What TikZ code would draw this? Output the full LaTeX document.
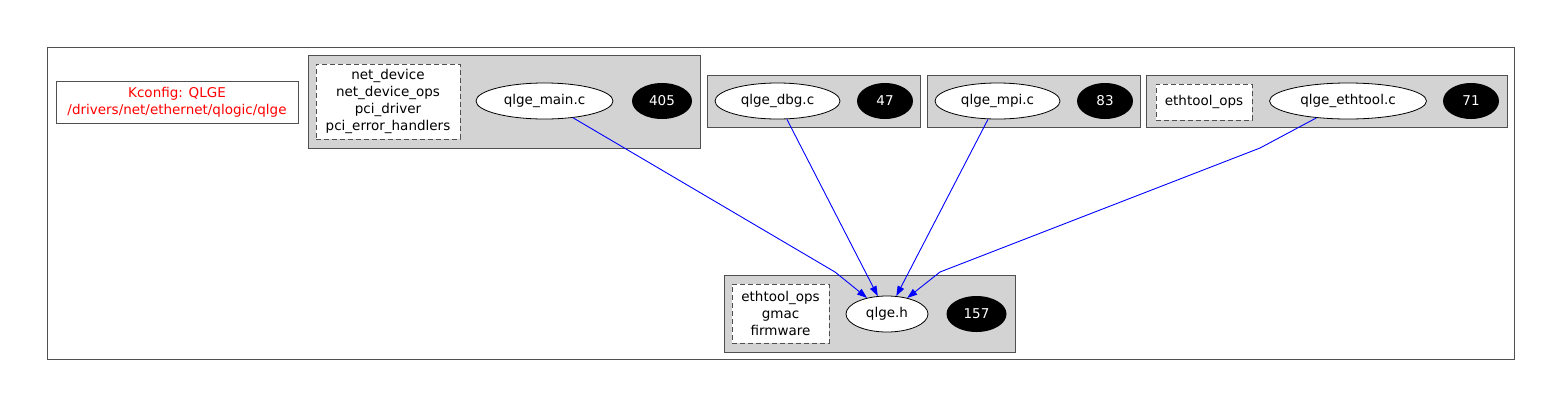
\documentclass[tikz,border=0pt]{standalone}
\usepackage{fontspec}
\setmainfont{DejaVu Sans}
\usetikzlibrary{arrows.meta,shapes.geometric}
\definecolor{clusterfill}{RGB}{211,211,211}
\definecolor{framegray}{RGB}{80,80,80}
\tikzset{
  frame/.style={draw=framegray, line width=1pt, inner sep=0pt},
  cluster/.style={frame, fill=clusterfill, minimum height=52pt},
  symbols/.style={draw=framegray, line width=1pt, dash pattern=on 5pt off 3pt, fill=white, align=center, inner sep=0pt},
  srcfile/.style={ellipse, draw, line width=0.8pt, fill=white, inner sep=0pt, minimum height=36pt},
  count/.style={ellipse, fill=black, text=white, inner sep=0pt, minimum height=36pt, minimum width=56pt},
  dep/.style={draw=blue, line width=0.9pt, -{Triangle[length=10pt,width=7pt]}}
}
\begin{document}
\begin{tikzpicture}[x=1pt, y=-1pt, font=\fontsize{13.5}{17.3}\selectfont]
            \useasboundingbox (0,0) rectangle (1562,408);
            \node[frame, minimum width=1467pt, minimum height=312pt] (outer) at (780.5,203) {};
            \node[frame, text=red, align=center, minimum width=242pt, minimum height=42pt] (kconfig) at (177,102) {Kconfig: QLGE\\/drivers/net/ethernet/qlogic/qlge};

            \node[cluster, minimum width=392pt, minimum height=93pt] (cmain) at (504,101.5) {};
            \node[cluster, minimum width=213pt] (cdbg) at (813.5,101) {};
            \node[cluster, minimum width=213pt] (cmpi) at (1033.5,101) {};
            \node[cluster, minimum width=361pt] (cethtool) at (1326.5,101) {};
            \node[cluster, minimum width=291pt, minimum height=77pt] (cheader) at (869.5,313.5) {};

            \node[symbols, minimum width=144pt, minimum height=75pt] (smain) at (388,101.5) {net\_device\\net\_device\_ops\\pci\_driver\\pci\_error\_handlers};
            \node[srcfile, minimum width=137pt] (main) at (544.5,101) {qlge\_main.c};
            \node[count, minimum width=60pt] (n405) at (662,101) {405};

            \node[srcfile, minimum width=125pt] (dbg) at (777.5,101) {qlge\_dbg.c};
            \node[count] (n47) at (885,101) {47};

            \node[srcfile, minimum width=125pt] (mpi) at (997.5,101) {qlge\_mpi.c};
            \node[count] (n83) at (1105,101) {83};

            \node[symbols, minimum width=96pt, minimum height=36pt] (sethtool) at (1204,102) {ethtool\_ops};
            \node[srcfile, minimum width=157pt] (ethtool) at (1348,101) {qlge\_ethtool.c};
            \node[count] (n71) at (1471,101) {71};

            \node[symbols, minimum width=97pt, minimum height=59pt] (sheader) at (780.5,313.5) {ethtool\_ops\\gmac\\firmware};
            \node[srcfile, minimum width=82pt] (qlgeh) at (887,314) {qlge.h};
            \node[count, minimum width=60pt] (n157) at (976.5,314) {157};

            \coordinate (b1) at (835,272);
            \coordinate (b2) at (1260,148);
            \coordinate (b3) at (940,272);

            \draw[dep] (main) -- (b1) -- (qlgeh);
            \draw[dep] (dbg) -- (qlgeh);
            \draw[dep] (mpi) -- (qlgeh);
            \draw[dep] (ethtool) -- (b2) -- (b3) -- (qlgeh);
        \end{tikzpicture}
\end{document}
